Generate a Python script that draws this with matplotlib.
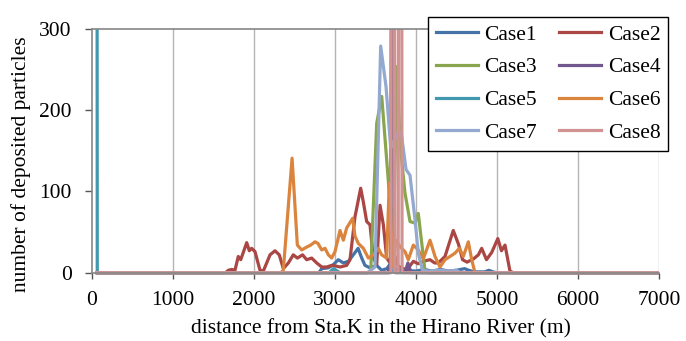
import matplotlib
matplotlib.use("Agg")
import matplotlib.pyplot as plt
from matplotlib.patches import Rectangle

plt.rcParams['font.family'] = ['Liberation Serif', 'DejaVu Serif']

# ---- data (distance in m, number of deposited particles) ----
case1_x = [65, 2800, 2836, 2918, 2980, 3041, 3103, 3165, 3226, 3285, 3330, 3370, 3432, 3490, 3514, 3576, 3640, 3690, 3740, 3800, 3860, 4000, 4100, 4200, 4300, 4400, 4500, 4600, 4650, 4720, 4850, 4900, 4950, 5000, 7000]
case1_y = [0, 0, 5, 6, 10, 16, 12, 14, 22, 30, 18, 9, 6, 8, 9, 3, 5, 12, 4, 2, 3, 2, 4, 2, 4, 2, 3, 5, 3, 1, 1, 3, 1, 0, 0]

case2_x = [65, 1650, 1683, 1724, 1765, 1806, 1836, 1910, 1942, 1971, 2012, 2074, 2115, 2198, 2259, 2312, 2362, 2424, 2485, 2535, 2600, 2650, 2712, 2774, 2836, 2897, 2959, 3020, 3062, 3144, 3185, 3247, 3317, 3350, 3391, 3432, 3473, 3515, 3556, 3597, 3638, 3680, 3720, 3780, 3830, 3885, 3967, 4028, 4090, 4173, 4230, 4275, 4358, 4460, 4525, 4575, 4630, 4710, 4770, 4811, 4870, 4935, 5010, 5055, 5099, 5160, 5200, 7000]
case2_y = [0, 0, 3, 4, 3, 20, 16, 37, 27, 30, 26, 3, 2, 22, 27, 22, 5, 12, 22, 18, 22, 16, 18, 12, 7, 7, 9, 8, 7, 9, 16, 69, 104, 87, 63, 59, 18, 10, 83, 59, 18, 12, 26, 8, 6, 3, 14, 11, 14, 16, 12, 12, 20, 52, 35, 16, 13, 17, 22, 30, 16, 25, 42, 27, 34, 2, 0, 0]

case3_x = [65, 3400, 3441, 3515, 3577, 3638, 3670, 3720, 3769, 3802, 3864, 3926, 3988, 4028, 4111, 4150, 7000]
case3_y = [0, 0, 2, 184, 217, 139, 98, 45, 254, 160, 98, 63, 61, 73, 2, 0, 0]

case4_x = [65, 3650, 3685, 3705, 3735, 3870, 3900, 3940, 7000]
case4_y = [0, 0, 10, 600, 5, 2, 12, 0, 0]

case5_x = [50, 65, 2930, 2980, 3030, 3060, 3680, 3720, 3760, 7000]
case5_y = [2500, 0, 0, 5, 2, 0, 0, 3, 0, 0]

case6_x = [65, 2330, 2362, 2470, 2535, 2589, 2640, 2700, 2753, 2790, 2836, 2877, 2918, 2959, 3000, 3062, 3103, 3144, 3218, 3247, 3288, 3350, 3412, 3473, 3535, 3576, 3638, 3670, 3712, 3753, 3802, 3864, 3905, 3967, 4028, 4090, 4173, 4235, 4296, 4358, 4420, 4481, 4535, 4584, 4646, 4688, 4728, 7000]
case6_y = [0, 0, 3, 141, 34, 28, 31, 34, 38, 36, 28, 30, 22, 18, 26, 52, 40, 55, 67, 45, 36, 30, 18, 22, 30, 22, 18, 110, 8, 40, 32, 26, 16, 34, 28, 17, 40, 20, 7, 16, 20, 24, 30, 20, 38, 16, 0, 0]

case7_x = [65, 3400, 3494, 3564, 3630, 3688, 3740, 3790, 3823, 3877, 3926, 3988, 4028, 4080, 4150, 4300, 4400, 4500, 4550, 7000]
case7_y = [0, 0, 7, 279, 229, 153, 165, 174, 168, 127, 120, 65, 24, 3, 2, 3, 2, 3, 0, 0]

case8_x = [65, 3690, 3714, 3738, 3780, 3804, 3828, 7000]
case8_y = [0, 0, 2500, 0, 0, 2500, 0, 0]

labels = ['Case1', 'Case2', 'Case3', 'Case4', 'Case5', 'Case6', 'Case7', 'Case8']
colors = ['#4572A7', '#AA4643', '#89A54E', '#71588F', '#4198AF', '#DB843D', '#93A9CF', '#D19392']

xticks = [0, 1000, 2000, 3000, 4000, 5000, 6000, 7000]
yticks = [0, 100, 200, 300]

series = [(case1_x, case1_y), (case2_x, case2_y), (case3_x, case3_y), (case4_x, case4_y),
          (case5_x, case5_y), (case6_x, case6_y), (case7_x, case7_y), (case8_x, case8_y)]

fig = plt.figure(figsize=(6.86, 3.41), dpi=100)
ax = fig.add_axes([92/686, 1-272.7/341, 567/686, 243.7/341])

ax.set_xlim(0, 7000)
ax.set_ylim(0, 300)
ax.set_xticks(xticks)
ax.set_yticks(yticks)

for xv in xticks[1:]:
    ax.axvline(xv, color='#B4B4B4', lw=1.0, zorder=0)

clip = Rectangle((0, -0.03), 1, 1.03, transform=ax.transAxes, facecolor='none', edgecolor='none')
ax.add_patch(clip)
handles = []
for (xs, ys), lab, c in zip(series, labels, colors):
    ln, = ax.plot(xs, ys, color=c, lw=2.3, label=lab, solid_joinstyle='round')
    ln.set_clip_path(clip)
    handles.append(ln)

for s in ['left', 'bottom', 'top']:
    ax.spines[s].set_color('#868686')
    ax.spines[s].set_linewidth(1.2)
ax.spines['right'].set_visible(False)

ax.tick_params(axis='y', direction='out', length=5, width=1, color='#555555', pad=9.5, labelsize=15.5)
ax.tick_params(axis='x', direction='out', length=4, width=1, color='#555555', pad=9, labelsize=15.5)

ax.set_xlabel('distance from Sta.K in the Hirano River (m)', fontsize=15.5)
ax.set_ylabel('number of deposited particles', fontsize=15.5)
ax.xaxis.set_label_coords(0.509, -0.19)
ax.yaxis.set_label_coords(-0.108, 0.444)

# legend filled row-wise: (Case1 Case2) / (Case3 Case4) / ...
order = [0, 2, 4, 6, 1, 3, 5, 7]
leg = ax.legend([handles[i] for i in order], [labels[i] for i in order],
                ncol=2, loc='upper right', bbox_to_anchor=(1.016, 1.049), borderaxespad=0,
                fontsize=15.5, handlelength=1.95, handletextpad=0.3, columnspacing=1.05,
                labelspacing=0.59, borderpad=0.35, fancybox=False, framealpha=1)
leg.get_frame().set_edgecolor('#000000')
leg.get_frame().set_linewidth(1.0)
leg.set_zorder(10)

fig.savefig('out.png', dpi=100)
